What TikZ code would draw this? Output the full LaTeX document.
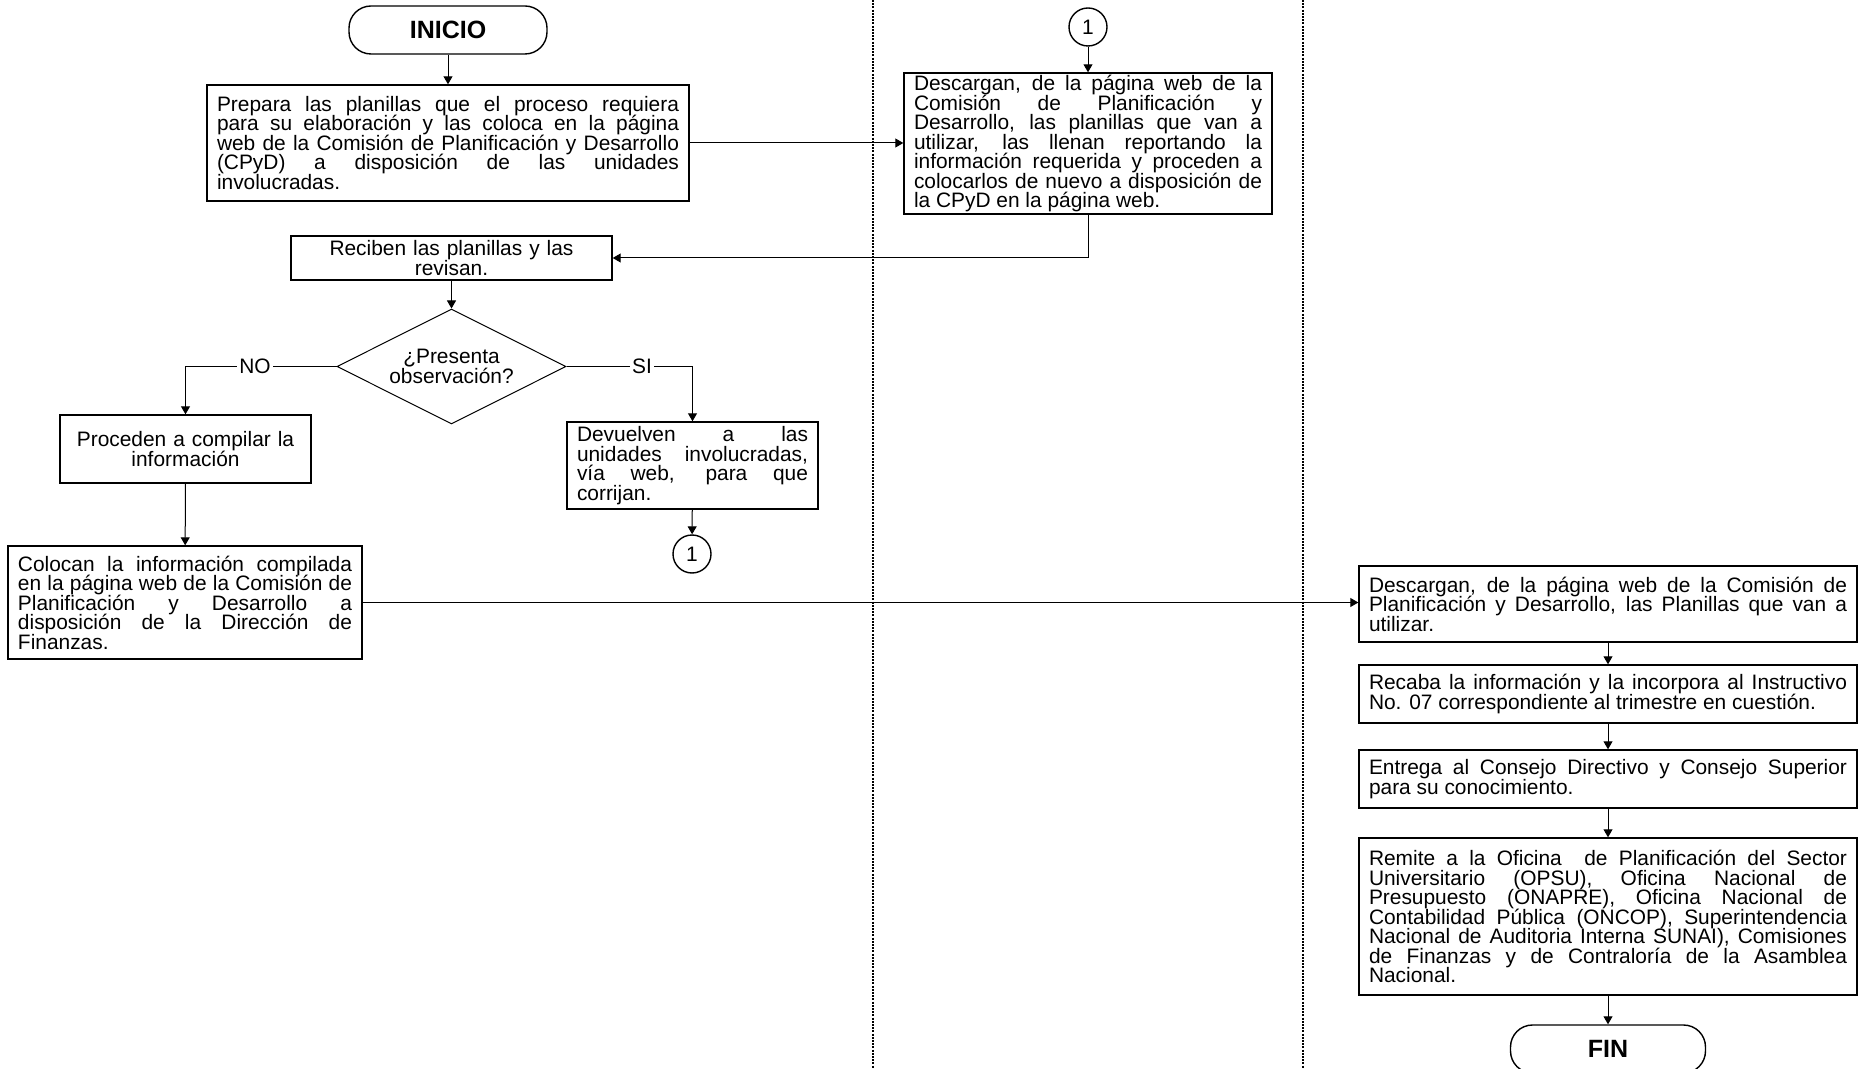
\documentclass[tikz,border=0pt]{standalone}
\usepackage{fontspec}
\setmainfont{Liberation Sans}
\usepackage{tikz}
\usetikzlibrary{shapes,arrows,positioning,calc,arrows.meta}
\newcommand\bodyfont{\fontsize{10.45}{9.75}\selectfont\lineskiplimit=-20pt}
\hbadness=10000

\begin{document}
\begin{tikzpicture}[x=0.5pt, y=-0.5pt, >={Triangle[length=4pt,width=4.5pt]},
    line width=0.5pt,
    every node/.style={font=\bodyfont},
    proc/.style={draw, line width=0.7pt, inner xsep=5pt, inner ysep=0pt, align=justify},
    term/.style={draw, line width=0.7pt, rounded corners=11pt, minimum height=24pt, font=\fontsize{12.5}{14}\selectfont\bfseries},
    conn/.style={draw, circle, line width=0.7pt, minimum size=19pt, inner sep=0pt},
    lbl/.style={fill=white, inner sep=1pt},
    lane/.style={line width=1pt, dash pattern=on 1pt off 0.6pt}]
    \useasboundingbox (0,0) rectangle (1868,1069);

    % carriles
    \draw[lane] (873,0) -- (873,1069);
    \draw[lane] (1303,0) -- (1303,1069);

    \node[term, minimum width=99pt] (ini) at (448,30) {INICIO};
    \node[proc, text width=231pt, minimum height=58pt] (b1) at (448,143) {Prepara las planillas que el proceso requiera\linebreak para su elaboración y las coloca en la página\linebreak web de la Comisión de Planificación y Desarrollo\linebreak (CPyD) a disposición de las unidades\linebreak involucradas.};

    \node[conn] (c1) at (1088,27) {1};
    \node[proc, text width=174pt, minimum height=70.5pt] (b2) at (1088,143.5) {Descargan, de la página web de la\linebreak Comisión de Planificación y\linebreak Desarrollo, las planillas que van a\linebreak utilizar, las llenan reportando la\linebreak información requerida y proceden a\linebreak colocarlos de nuevo a disposición de\linebreak la CPyD en la página web.};

    \node[proc, align=center, text width=150.5pt, minimum height=22pt] (b3) at (451.5,258) {Reciben las planillas y las\\revisan.};
    \node[draw, diamond, aspect=2, inner sep=0pt, minimum width=114.5pt, minimum height=57.5pt, align=center] (dec) at (451.5,366.5) {¿Presenta\\observación?};

    \node[proc, align=center, text width=115.5pt, minimum height=34pt] (b4) at (185.5,449) {Proceden a compilar la\\información};
    \node[proc, text width=115.5pt, minimum height=43.5pt] (b5) at (692.5,465.5) {Devuelven a las\linebreak unidades involucradas,\linebreak vía web, para que\linebreak corrijan.};
    \node[conn] (c2) at (692,554) {1};

    \node[proc, text width=167pt, minimum height=56.5pt] (b6) at (185,602.5) {Colocan la información compilada\linebreak en la página web de la Comisión de\linebreak Planificación y Desarrollo a\linebreak disposición de la Dirección de\linebreak Finanzas.};

    \node[proc, text width=239pt, minimum height=38pt] (b7) at (1608,604) {Descargan, de la página web de la Comisión de\linebreak Planificación y Desarrollo, las Planillas que van a\linebreak utilizar.};
    \node[proc, text width=239pt, minimum height=29pt] (b8) at (1608,694) {Recaba la información y la incorpora al Instructivo\linebreak No. 07 correspondiente al trimestre en cuestión.};
    \node[proc, text width=239pt, minimum height=29pt] (b9) at (1608,779) {Entrega al Consejo Directivo y Consejo Superior\linebreak para su conocimiento.};
    \node[proc, text width=239pt, minimum height=78.5pt] (b10) at (1608,916.5) {Remite a la Oficina\ \ de Planificación del Sector\linebreak Universitario (OPSU), Oficina Nacional de\linebreak Presupuesto (ONAPRE), Oficina Nacional de\linebreak Contabilidad Pública (ONCOP), Superintendencia\linebreak Nacional de Auditoria Interna SUNAI), Comisiones\linebreak de Finanzas y de Contraloría de la Asamblea\linebreak Nacional.};
    \node[term, minimum width=97.5pt] (fin) at (1608,1049) {FIN};

    \draw[->] (ini) -- (b1);
    \draw[->] (b1.east) -- (b1.east -| b2.west);
    \draw[->] (c1) -- (b2);
    \draw[->] (b2.south) |- (b3.east);
    \draw[->] (b3) -- (dec);
    \draw[->] (dec.west) -| node[pos=0.27, lbl] {NO} (b4.north);
    \draw[->] (dec.east) -| node[pos=0.3, lbl] {SI} (b5.north);
    \draw[->] (b4) -- (b6);
    \draw[->] (b5) -- (c2);
    \draw[->] (b6.east) -- (b6.east -| b7.west);
    \draw[->] (b7) -- (b8);
    \draw[->] (b8) -- (b9);
    \draw[->] (b9) -- (b10);
    \draw[->] (b10) -- (fin);
\end{tikzpicture}
\end{document}
